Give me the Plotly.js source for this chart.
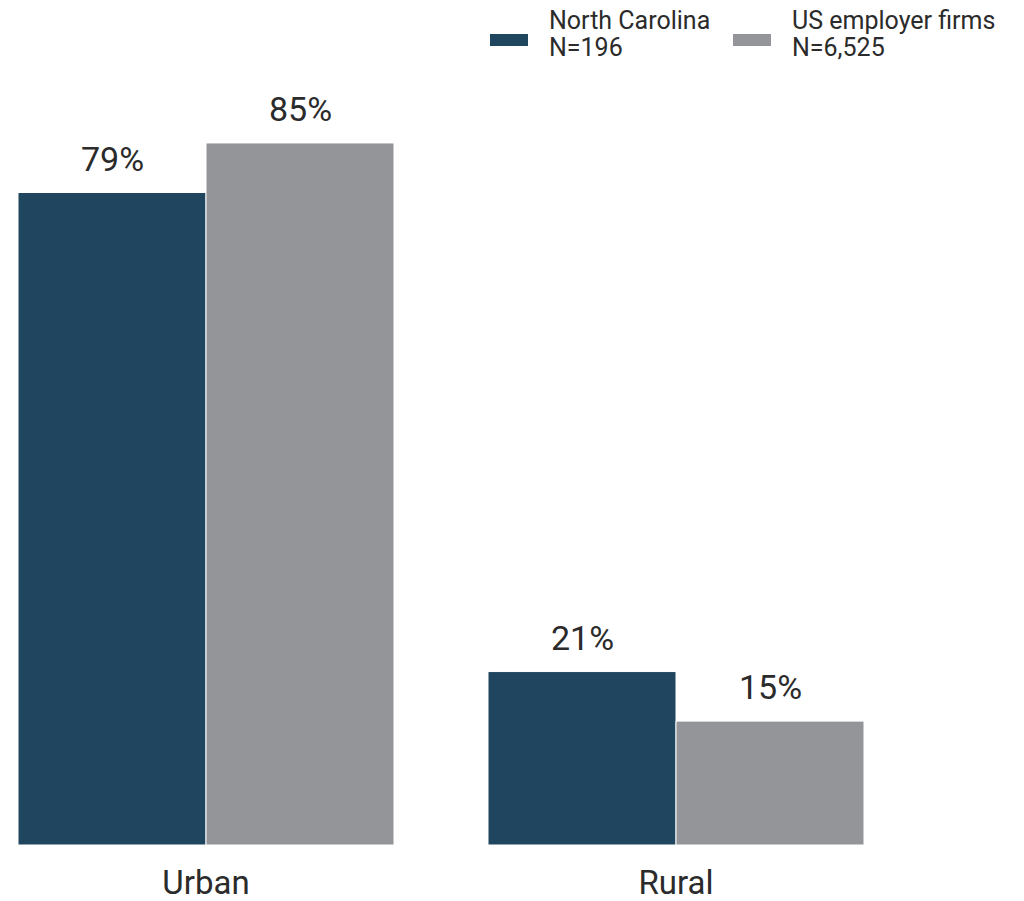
<!DOCTYPE html>
<html>
<head>
<meta charset="utf-8">
<script src="https://cdn.plot.ly/plotly-3.0.1.min.js"></script>
<style>html,body{margin:0;padding:0;background:#fff;}#chart{width:1024px;height:901px;}</style>
</head>
<body>
<div id="chart"></div>
<script>
const categories = ["Urban", "Rural"];
const seriesNames = ["North Carolina", "US employer firms"];
const seriesN = ["N=196", "N=6,525"];
const ncValues = [79, 21];
const usValues = [85, 15];
const colors = ["#1F465E", "#939598"];

const allValues = [ncValues, usValues];
const traces = allValues.map((vals, i) => ({
  type: "bar",
  x: categories,
  y: vals,
  name: seriesNames[i],
  marker: {color: colors[i], line: {color: "#ffffff", width: 1}},
  hoverinfo: "skip",
  showlegend: false
}));

const annotations = [];
allValues.forEach((vals, s) => {
  vals.forEach((v, c) => {
    annotations.push({
      x: c + (s === 0 ? -0.2 : 0.2), y: v, xref: "x", yref: "y",
      text: v + "%", showarrow: false, yanchor: "bottom", yshift: 12,
      font: {family: "Roboto, sans-serif", size: 34, color: "#2b2b2b"}
    });
  });
});

// custom legend
const legX = [490, 733];
const shapes = [];
seriesNames.forEach((n, i) => {
  shapes.push({type: "rect", xref: "paper", yref: "paper",
    x0: (legX[i] - 18) / 846, x1: (legX[i] + 38 - 18) / 846,
    y0: (845 - 46) / 745, y1: (845 - 34) / 745,
    fillcolor: colors[i], line: {width: 0}});
  [n, seriesN[i]].forEach((line, k) => {
    annotations.push({xref: "paper", yref: "paper",
      x: (legX[i] + 57 - 18) / 846, y: (845 - (21 + 27 * k)) / 745,
      xanchor: "left", yanchor: "middle", align: "left", showarrow: false,
      text: line,
      font: {family: "Roboto, sans-serif", size: 25, color: "#2b2b2b"}});
  });
});

const layout = {
  width: 1024, height: 901,
  margin: {l: 18, r: 160, t: 100, b: 56},
  paper_bgcolor: "#ffffff", plot_bgcolor: "#ffffff",
  barmode: "group", bargap: 0.2, bargroupgap: 0,
  xaxis: {type: "category", range: [-0.4, 1.4], showgrid: false, showline: false,
    zeroline: false, ticks: "", ticklabelstandoff: 15,
    tickfont: {family: "Roboto, sans-serif", size: 33, color: "#2b2b2b"}},
  yaxis: {range: [0, 90.2], visible: false, showgrid: false, zeroline: false},
  showlegend: false,
  annotations: annotations,
  shapes: shapes
};

Plotly.newPlot("chart", traces, layout, {displayModeBar: false, staticPlot: true});
</script>
</body>
</html>
